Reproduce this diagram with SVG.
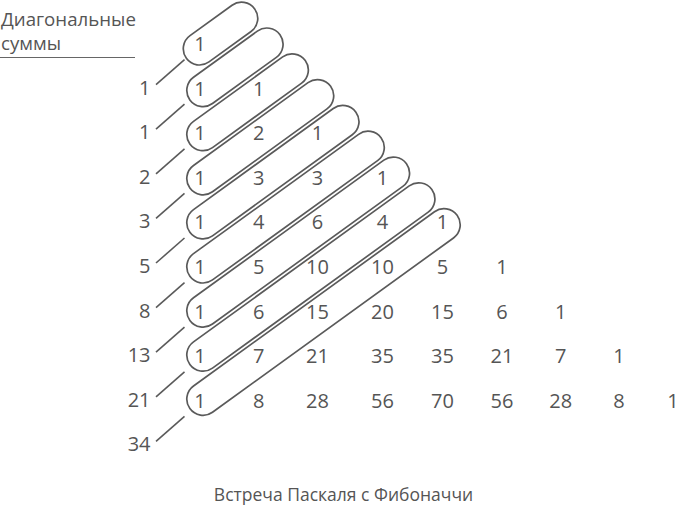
<svg xmlns="http://www.w3.org/2000/svg" width="679" height="505" viewBox="0 0 679 505">
<style>
text{font-family:"Open Sans","Noto Sans","Liberation Sans",sans-serif;fill:#555}
.n{font-size:20px;text-anchor:middle}
.s{font-size:20px;text-anchor:end}
.t{font-size:18.7px}
.c{font-size:17.5px;text-anchor:middle}
.cap{fill:none;stroke:#5a5a5a;stroke-width:1.7}
.ln{fill:none;stroke:#5a5a5a;stroke-width:1.6}
</style>
<rect width="679" height="505" fill="#fff"/>
<g id="title">
<text class="t" x="1" y="26">Диагональные</text>
<text class="t" x="1" y="50">суммы</text>
<line x1="0" y1="57.5" x2="135" y2="57.5" stroke="#666" stroke-width="1"/>
</g>
<g id="capsules">
<rect id="cap0" class="cap" x="183.3" y="32.6" width="84.3" height="32.4" rx="16.2" transform="rotate(-35.87 199.5 48.8)"/>
<rect id="cap1" class="cap" x="186.8" y="74.2" width="111.2" height="32.4" rx="16.2" transform="rotate(-35.87 203 90.4)"/>
<rect id="cap2" class="cap" x="186.8" y="118.3" width="142.4" height="32.4" rx="16.2" transform="rotate(-35.87 203 134.5)"/>
<rect id="cap3" class="cap" x="186.8" y="162.4" width="173.7" height="32.4" rx="16.2" transform="rotate(-35.87 203 178.6)"/>
<rect id="cap4" class="cap" x="186.8" y="206.5" width="204.9" height="32.4" rx="16.2" transform="rotate(-35.87 203 222.7)"/>
<rect id="cap5" class="cap" x="186.8" y="250.6" width="236.1" height="32.4" rx="16.2" transform="rotate(-35.87 203 266.8)"/>
<rect id="cap6" class="cap" x="186.8" y="294.7" width="267.3" height="32.4" rx="16.2" transform="rotate(-35.87 203 310.9)"/>
<rect id="cap7" class="cap" x="186.8" y="338.8" width="298.6" height="32.4" rx="16.2" transform="rotate(-35.87 203 355)"/>
<rect id="cap8" class="cap" x="186.8" y="382.9" width="329.8" height="32.4" rx="16.2" transform="rotate(-35.87 203 399.1)"/>
</g>
<g id="triangle">
<g id="row0"><text class="n" x="200" y="51">1</text></g>
<g id="row1"><text class="n" x="200" y="95.6">1</text><text class="n" x="258.7" y="95.6">1</text></g>
<g id="row2"><text class="n" x="200" y="140.2">1</text><text class="n" x="258.7" y="140.2">2</text><text class="n" x="317.5" y="140.2">1</text></g>
<g id="row3"><text class="n" x="200" y="184.8">1</text><text class="n" x="258.7" y="184.8">3</text><text class="n" x="317.5" y="184.8">3</text><text class="n" x="382.5" y="184.8">1</text></g>
<g id="row4"><text class="n" x="200" y="229.4">1</text><text class="n" x="258.7" y="229.4">4</text><text class="n" x="317.5" y="229.4">6</text><text class="n" x="382.5" y="229.4">4</text><text class="n" x="442.5" y="229.4">1</text></g>
<g id="row5"><text class="n" x="200" y="274">1</text><text class="n" x="258.7" y="274">5</text><text class="n" x="317.5" y="274">10</text><text class="n" x="382.5" y="274">10</text><text class="n" x="442.5" y="274">5</text><text class="n" x="502" y="274">1</text></g>
<g id="row6"><text class="n" x="200" y="318.6">1</text><text class="n" x="258.7" y="318.6">6</text><text class="n" x="317.5" y="318.6">15</text><text class="n" x="382.5" y="318.6">20</text><text class="n" x="442.5" y="318.6">15</text><text class="n" x="502" y="318.6">6</text><text class="n" x="560.7" y="318.6">1</text></g>
<g id="row7"><text class="n" x="200" y="363.2">1</text><text class="n" x="258.7" y="363.2">7</text><text class="n" x="317.5" y="363.2">21</text><text class="n" x="382.5" y="363.2">35</text><text class="n" x="442.5" y="363.2">35</text><text class="n" x="502" y="363.2">21</text><text class="n" x="560.7" y="363.2">7</text><text class="n" x="619" y="363.2">1</text></g>
<g id="row8"><text class="n" x="200" y="407.8">1</text><text class="n" x="258.7" y="407.8">8</text><text class="n" x="317.5" y="407.8">28</text><text class="n" x="382.5" y="407.8">56</text><text class="n" x="442.5" y="407.8">70</text><text class="n" x="502" y="407.8">56</text><text class="n" x="560.7" y="407.8">28</text><text class="n" x="619" y="407.8">8</text><text class="n" x="673" y="407.8">1</text></g>
</g>
<g id="sums">
<text id="sum1" class="s" x="150.5" y="94.6">1</text>
<text id="sum2" class="s" x="150.5" y="139.2">1</text>
<text id="sum3" class="s" x="150.5" y="183.8">2</text>
<text id="sum4" class="s" x="150.5" y="228.4">3</text>
<text id="sum5" class="s" x="150.5" y="273">5</text>
<text id="sum6" class="s" x="150.5" y="317.6">8</text>
<text id="sum7" class="s" x="150.5" y="362.2">13</text>
<text id="sum8" class="s" x="150.5" y="406.8">21</text>
<text id="sum9" class="s" x="150.5" y="451.4">34</text>
</g>
<g id="connectors">
<line class="ln" x1="156" y1="84.6" x2="184.5" y2="59.6"/>
<line class="ln" x1="156" y1="129.2" x2="184.5" y2="104.2"/>
<line class="ln" x1="156" y1="173.8" x2="184.5" y2="148.8"/>
<line class="ln" x1="156" y1="218.4" x2="184.5" y2="193.4"/>
<line class="ln" x1="156" y1="263" x2="184.5" y2="238"/>
<line class="ln" x1="156" y1="307.6" x2="184.5" y2="282.6"/>
<line class="ln" x1="156" y1="352.2" x2="184.5" y2="327.2"/>
<line class="ln" x1="156" y1="396.8" x2="184.5" y2="371.8"/>
<line class="ln" x1="156" y1="441.4" x2="184.5" y2="416.4"/>
</g>
<g id="caption">
<text class="c" x="343.5" y="501">Встреча Паскаля с Фибоначчи</text>
</g>
</svg>
